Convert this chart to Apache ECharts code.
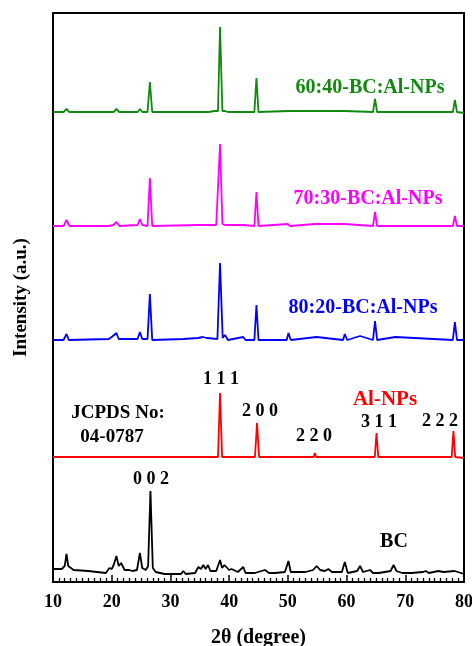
<!DOCTYPE html>
<html>
<head>
<meta charset="utf-8">
<script src="https://cdn.jsdelivr.net/npm/echarts@6/dist/echarts.min.js"></script>
<style>html,body{margin:0;padding:0;background:#fff;}#c{width:472px;height:646px;}</style>
</head>
<body>
<div id="c"></div>
<script>
// ---- Data (2θ in degrees, intensity in arbitrary stacked units) ----
const xTicks = [10, 20, 30, 40, 50, 60, 70, 80];

const bcTheta = [10,11.5,12.0,12.3,12.6,13.5,16,19,19.6,20.0,20.4,20.8,21.2,21.6,22.2,23.0,23.5,24.3,24.8,25.2,25.8,26.2,26.6,27.0,27.5,29,31.8,32.2,32.6,34.2,34.75,35.2,35.6,36.0,36.4,36.8,37.8,38.45,38.8,39.2,39.5,40.0,40.4,41.5,42.4,42.8,44.4,45.5,46.1,46.8,47.8,49.5,50.1,50.5,53,54.3,54.9,55.5,56.3,56.9,57.5,59.2,59.7,60.2,61.8,62.3,62.8,64.0,64.5,65.5,67.5,68.0,68.5,69.5,71,73.0,73.5,74.0,75.6,76.5,78.4,79.5,80];
const bcInt   = [13,13,16,28,16,12,11,9,14,13,18,26,16,19,12,12,11,12,29,14,12,16,91,14,10,8,8,11,8,9,15,13,17,13,17,11,11,22,14,17,19,12,13,10,15,9,9,11,12,9,9,10,21,10,10,12,16,12,11,13,10,10,20,9,11,16,10,12,9,9,11,17,11,9,9,10,11,9,11,10,11,9,8];

const alTheta = [10,38.1,38.45,38.8,44.4,44.75,45.1,54.4,54.6,54.8,64.8,65.1,65.4,77.9,78.2,78.5,80];
const alInt   = [125,125,189,125,125,159,125,125,129,125,125,149,125,125,151,125,124];

const bc80Theta = [10,11.8,12.3,12.7,19.5,20.0,20.8,21.2,24.4,24.8,25.2,26.1,26.5,26.9,32.2,34.7,35.5,36.2,38.0,38.45,38.9,39.3,39.8,42.4,42.8,44.3,44.65,45.0,49.8,50.1,50.5,54.9,59.4,59.7,60.1,62.3,64.5,64.85,65.2,68.3,78.1,78.45,78.8,80];
const bc80Int   = [242,242,248,242,243,245,249,243,243,250,243,243,288,242,243,244,245,244,243,319,244,247,242,245,242,242,277,242,242,249,242,245,242,248,242,246,242,261,242,245,242,260,242,242];

const bc70Theta = [10,11.8,12.3,12.8,19.5,20.3,20.8,21.3,24.4,24.8,25.2,26.1,26.5,26.9,34.7,36.4,37.8,38.45,38.85,39.3,42.4,44.3,44.65,45.0,50.0,50.4,54.6,59.7,64.5,64.85,65.2,78.1,78.45,78.8,80];
const bc70Int   = [356,356,362,356,356,357,360,356,357,363,357,356,404,356,357,357,357,438,358,357,357,356,390,356,358,356,358,358,356,370,356,356,366,356,356];

const bc60Theta = [10,11.8,12.3,12.8,20.3,20.8,21.3,24.4,24.8,25.2,26.1,26.5,26.9,36.5,37.5,38.1,38.45,38.85,39.3,39.8,44.3,44.65,45.0,50.1,54.6,59.7,64.5,64.85,65.2,78.1,78.45,78.8,80];
const bc60Int   = [470,470,473,470,470,473,470,470,473,470,470,500,470,470,471,471,555,471,471,470,470,504,470,471,471,471,470,483,470,470,482,470,469];

const seriesNames  = ['BC', 'Al-NPs', '80:20-BC:Al-NPs', '70:30-BC:Al-NPs', '60:40-BC:Al-NPs'];
const seriesColors = ['#000000', '#ff0000', '#0000ff', '#ff00ff', '#0f8a0f'];
const thetas = [bcTheta, alTheta, bc80Theta, bc70Theta, bc60Theta];
const ints   = [bcInt, alInt, bc80Int, bc70Int, bc60Int];

const peakLabels = ['1 1 1', '2 0 0', '2 2 0', '3 1 1', '2 2 2', '0 0 2'];

// ---- Chart ----
const chart = echarts.init(document.getElementById('c'), null, {renderer: 'canvas'});
const FONT = '"Liberation Serif", "Times New Roman", serif';

const series = seriesNames.map((n, i) => ({
  name: n,
  type: 'line',
  showSymbol: false,
  data: thetas[i].map((t, k) => [t, ints[i][k]]),
  lineStyle: {color: seriesColors[i], width: 1.8},
  itemStyle: {color: seriesColors[i]},
  z: 3
}));

function txt(text, x, y, color, size) {
  return {
    type: 'text', x: x, y: y,
    style: {text: text, fill: color, font: 'bold ' + size + 'px ' + FONT,
            textAlign: 'center', textVerticalAlign: 'middle'}
  };
}

chart.setOption({
  animation: false,
  backgroundColor: '#ffffff',
  grid: {left: 53, right: 8, top: 13, bottom: 64, show: true, borderColor: '#000', borderWidth: 2,
         containLabel: false, outerBoundsMode: 'none'},
  xAxis: {
    type: 'value', min: xTicks[0], max: xTicks[xTicks.length - 1], interval: 10,
    axisLine: {show: true, lineStyle: {color: '#000', width: 2}},
    axisTick: {show: true, inside: true, length: 7, lineStyle: {color: '#000', width: 1.5}},
    minorTick: {show: true, splitNumber: 10, length: 4, lineStyle: {color: '#000', width: 1.3}},
    splitLine: {show: false},
    axisLabel: {color: '#000', fontSize: 18, fontWeight: 'bold', fontFamily: FONT, margin: 11},
    name: '2θ (degree)', nameLocation: 'middle', nameGap: 46,
    nameTextStyle: {color: '#000', fontSize: 20, fontWeight: 'bold', fontFamily: FONT}
  },
  yAxis: {
    type: 'value', min: 0, max: 569,
    axisLine: {show: true, lineStyle: {color: '#000', width: 2}},
    axisTick: {show: false}, axisLabel: {show: false}, splitLine: {show: false},
    name: 'Intensity (a.u.)', nameLocation: 'middle', nameGap: 22, nameRotate: 90,
    nameTextStyle: {color: '#000', fontSize: 19, fontWeight: 'bold', fontFamily: FONT}
  },
  series: series,
  graphic: [
    txt(seriesNames[4], 370, 88, seriesColors[4], 20),
    txt(seriesNames[3], 368, 199, seriesColors[3], 20),
    txt(seriesNames[2], 363, 308, seriesColors[2], 20),
    txt(seriesNames[1], 385, 400, seriesColors[1], 21),
    txt(seriesNames[0], 394, 542, '#000', 20),
    txt('JCPDS No:', 118, 413, '#000', 19),
    txt('04-0787', 112, 437, '#000', 19),
    txt(peakLabels[0], 221, 379, '#000', 18),
    txt(peakLabels[1], 260, 411, '#000', 18),
    txt(peakLabels[2], 314, 436, '#000', 18),
    txt(peakLabels[3], 379, 422, '#000', 18),
    txt(peakLabels[4], 440, 421, '#000', 18),
    txt(peakLabels[5], 151, 479, '#000', 18)
  ]
});
</script>
</body>
</html>
